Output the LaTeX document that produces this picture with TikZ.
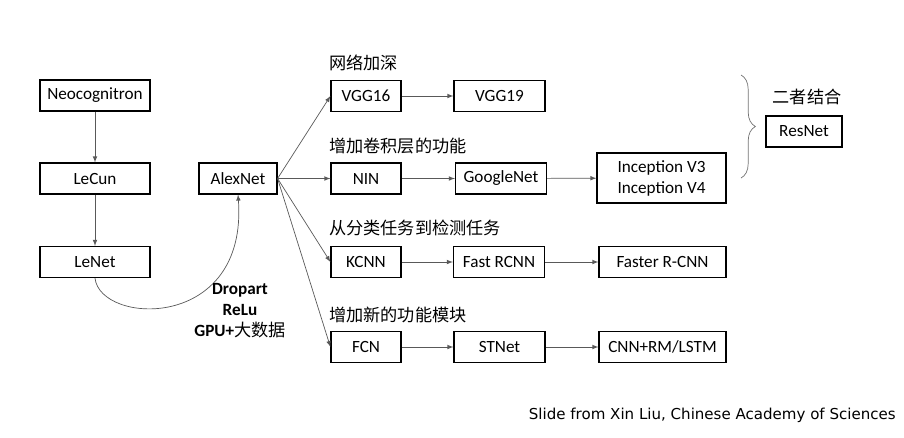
\documentclass[tikz,border=0pt]{standalone}
\usepackage{fontspec}
\setmainfont{Carlito}
\newfontfamily\cjk{Noto Sans CJK SC}
\newfontfamily\footfont{DejaVu Sans}
\usetikzlibrary{decorations.pathreplacing}

\begin{document}
\begin{tikzpicture}[x=0.025cm, y=-0.025cm, >=latex,
	netbox/.style={draw, black, line width=0.8pt, inner sep=0pt, minimum height=0.775cm, font=\fontsize{12.2}{15}\selectfont},
	note/.style={anchor=west, inner sep=0pt, font=\fontsize{12.2}{15}\selectfont\cjk},
	link/.style={->, draw=black!65, line width=0.5pt}]
	
	\useasboundingbox (0,0) rectangle (904,437);
	
	% EARLY NETWORKS
	\node[netbox, minimum width=2.75cm] (neo)   at ( 95, 95.5) {Neocognitron};
	\node[netbox, minimum width=2.75cm] (lecun) at ( 95,178.5) {LeCun};
	\node[netbox, minimum width=2.75cm] (lenet) at ( 95,262  ) {LeNet};
	\node[netbox, minimum width=1.95cm] (alex)  at (238,178.5) {AlexNet};
	
	% Deeper
	\node[note] (deep) at (329,63) {网络加深};
	\node[netbox, minimum width=1.75cm ] (vgga) at (366,  96) {VGG16};
	\node[netbox, minimum width=2.275cm] (vggb) at (499.5,96) {VGG19};
	
	% Conv layer functions
	\node[note] (conv) at (329,146) {增加卷积层的功能};
	\node[netbox, minimum width=1.75cm ] (nin)    at (366,178.5) {NIN};
	\node[netbox, minimum width=2.275cm] (google) at (501,178.5) {GoogleNet};
	\node[netbox, minimum width=3.225cm, minimum height=1.25cm, align=center] (incep) at (661.5,178) {Inception V3\\Inception V4};
	
	% Classification to detection
	\node[note] (detect) at (329,228) {从分类任务到检测任务};
	\node[netbox, minimum width=1.75cm ] (kcnn)   at (366,  262) {KCNN};
	\node[netbox, minimum width=2.275cm] (fast)   at (499,  262) {Fast RCNN};
	\node[netbox, minimum width=3.175cm] (faster) at (662.5,262) {Faster R-CNN};
	
	% New modules
	\node[note] (module) at (329,315) {增加新的功能模块};
	\node[netbox, minimum width=1.75cm ] (fcn)   at (366,  347) {FCN};
	\node[netbox, minimum width=2.275cm] (st)    at (499.5,347) {STNet};
	\node[netbox, minimum width=3.175cm] (lstm)  at (662.5,347) {CNN+RM/LSTM};
	
	% Combination
	\draw[black!55, line width=0.5pt, decorate, decoration={brace, amplitude=0.36cm}] (741,75) -- (741,178);
	\node[note, anchor=center] (both) at (807,97) {二者结合};
	\node[netbox, minimum width=1.9cm] (res) at (804,131.5) {ResNet};
	
	% ARROWS
	\draw[link] (neo) -- (lecun);
	\draw[link] (lecun) -- (lenet);
	\draw[link] (lenet.south) .. controls (100,325) and (248,332) .. (alex.south);
	\node[align=center, font=\fontsize{12.2}{15}\selectfont\bfseries] (tricks) at (240,311) {Dropart\\ReLu\\GPU+{\mdseries\cjk 大数据}};
	
	\foreach \b in {vgga, nin, kcnn, fcn}
	\draw[link] (alex.east) -- (\b.west);
	
	\foreach \a/\b in {vgga/vggb, nin/google, google/incep, kcnn/fast, fast/faster, fcn/st, st/lstm}
	\draw[link] (\a) -- (\b);
	
	% credit
	\node[anchor=east, inner sep=0pt, font=\footfont\fontsize{10.7}{13}\selectfont] (credit) at (896,415) {Slide from Xin Liu, Chinese Academy of Sciences};
	
\end{tikzpicture}
\end{document}
